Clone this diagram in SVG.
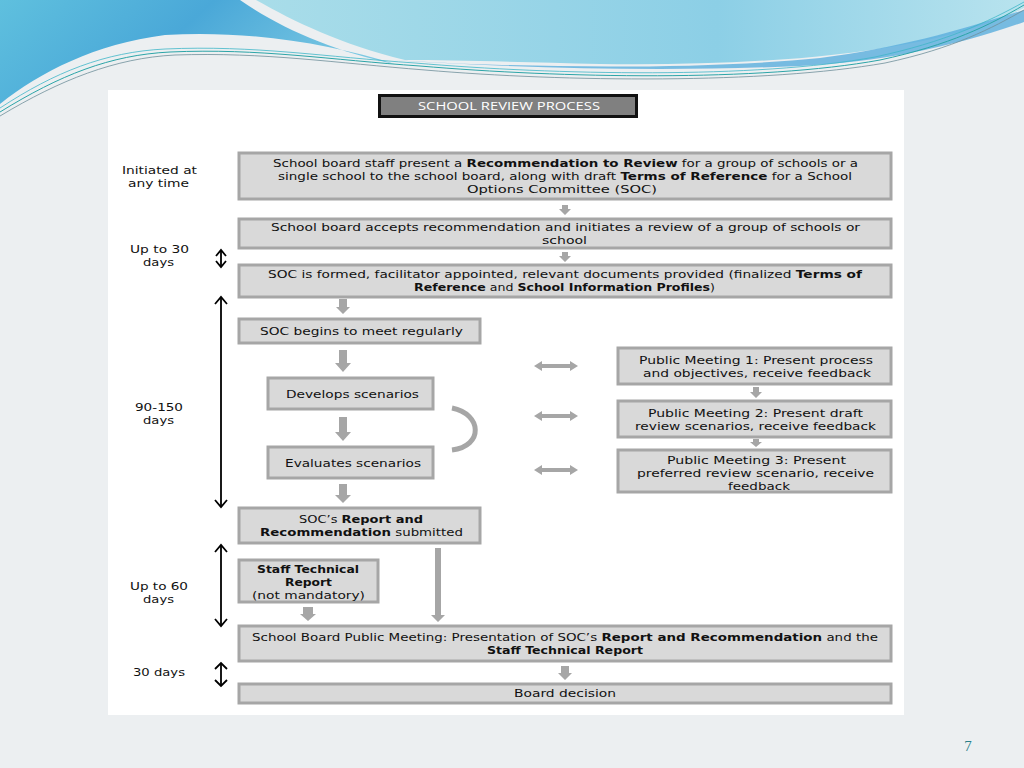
<svg xmlns="http://www.w3.org/2000/svg" width="1024" height="768" viewBox="0 0 1024 768">
<defs>
<linearGradient id="gBlue" x1="0" y1="0" x2="1" y2="0.3">
<stop offset="0" stop-color="#5fc0de"/><stop offset="0.5" stop-color="#4aa8d8"/><stop offset="1" stop-color="#7cc9e3"/>
</linearGradient>
<linearGradient id="gCyan" x1="0" y1="0" x2="1" y2="0">
<stop offset="0" stop-color="#a9dde9"/><stop offset="0.6" stop-color="#8ccfe6"/><stop offset="1" stop-color="#b8e3ee"/>
</linearGradient>
<style>
.box{fill:#d9d9d9;stroke:#a6a6a6;stroke-width:3}
.t{font-family:"DejaVu Sans","Open Sans",sans-serif;font-size:11px;fill:#111;text-anchor:middle}
.b{font-weight:bold}
.lab{font-family:"DejaVu Sans","Open Sans",sans-serif;font-size:11px;fill:#111;text-anchor:middle}
.ga{fill:#a6a6a6}
.bl{stroke:#000;stroke-width:1.8;fill:none}
</style>
</defs>
<rect width="1024" height="768" fill="#eceff1"/>
<g id="waves">
<path d="M0,0 L240,0 C280,28 335,52 395,64 C330,44 250,30 165,35 C95,44 40,72 0,104 Z" fill="url(#gBlue)"/>
<path d="M256,0 L1024,0 L1024,8 C930,55 760,66 600,64 C520,62 450,60 405,60 C340,44 295,22 256,0 Z" fill="url(#gCyan)"/>
<path d="M390,60 C520,68 700,70 820,58 C900,48 960,30 1024,10 L1024,22 C950,48 880,62 800,66 C660,72 520,68 390,60 Z" fill="#5aaedd" opacity="0.8"/>
<path d="M0,112 C60,75 110,55 170,52 C260,48 330,60 420,66 C560,78 760,82 880,60 C950,45 990,25 1024,5" stroke="#2ca5a8" stroke-width="1" fill="none"/>
<path d="M0,116 C60,80 115,58 175,55 C265,52 335,63 425,70 C565,82 765,84 885,63 C955,48 992,28 1024,10" stroke="#6f8f9a" stroke-width="0.8" fill="none"/>
<path d="M0,108 C55,72 105,52 165,49 C255,45 325,57 415,63 C555,75 755,79 875,57 C945,42 988,22 1024,2" stroke="#3fb6c8" stroke-width="0.8" fill="none"/>
</g>
<rect x="108" y="90" width="796" height="625" fill="#ffffff"/>
<g id="title">
<rect x="379.5" y="95.5" width="257" height="21" fill="#808080" stroke="#111" stroke-width="3"/>
<text x="509" y="110" font-family="'Open Sans','DejaVu Sans',sans-serif" font-size="11.5" fill="#fff" text-anchor="middle" textLength="182" lengthAdjust="spacingAndGlyphs">SCHOOL REVIEW PROCESS</text>
</g>
<g id="labels">
<text class="lab" x="159.5" y="174" textLength="75" lengthAdjust="spacingAndGlyphs">Initiated at</text>
<text class="lab" x="158.5" y="187" textLength="61" lengthAdjust="spacingAndGlyphs">any time</text>
<text class="lab" x="159.5" y="253" textLength="59" lengthAdjust="spacingAndGlyphs">Up to 30</text>
<text class="lab" x="158.5" y="266" textLength="31" lengthAdjust="spacingAndGlyphs">days</text>
<text class="lab" x="159" y="411" textLength="48" lengthAdjust="spacingAndGlyphs">90-150</text>
<text class="lab" x="158.5" y="424" textLength="31" lengthAdjust="spacingAndGlyphs">days</text>
<text class="lab" x="159" y="590" textLength="58" lengthAdjust="spacingAndGlyphs">Up to 60</text>
<text class="lab" x="158.5" y="603" textLength="31" lengthAdjust="spacingAndGlyphs">days</text>
<text class="lab" x="159" y="676" textLength="52" lengthAdjust="spacingAndGlyphs">30 days</text>
</g>
<g id="n1"><rect class="box" x="239" y="153" width="652" height="46"/>
<text class="t" x="565.5" y="167" textLength="585" lengthAdjust="spacingAndGlyphs">School board staff present a <tspan class="b">Recommendation to Review</tspan> for a group of schools or a</text>
<text class="t" x="565" y="180" textLength="574" lengthAdjust="spacingAndGlyphs">single school to the school board, along with draft <tspan class="b">Terms of Reference</tspan> for a School</text>
<text class="t" x="562" y="193" textLength="190" lengthAdjust="spacingAndGlyphs">Options  Committee (SOC)</text></g>
<g id="n2"><rect class="box" x="239" y="219" width="652" height="29"/>
<text class="t" x="565.5" y="231" textLength="589" lengthAdjust="spacingAndGlyphs">School board accepts recommendation and initiates a review of a group of schools or</text>
<text class="t" x="564.5" y="244" textLength="45" lengthAdjust="spacingAndGlyphs">school</text></g>
<g id="n3"><rect class="box" x="239" y="265" width="652" height="32"/>
<text class="t" x="565" y="278" textLength="594" lengthAdjust="spacingAndGlyphs">SOC is formed, facilitator appointed, relevant documents provided (finalized <tspan class="b">Terms of</tspan></text>
<text class="t" x="564.5" y="291" textLength="301" lengthAdjust="spacingAndGlyphs"><tspan class="b">Reference</tspan> and <tspan class="b">School Information Profiles</tspan>)</text></g>
<g id="n4"><rect class="box" x="239" y="319" width="241" height="24"/>
<text class="t" x="361.5" y="335" textLength="203" lengthAdjust="spacingAndGlyphs">SOC begins to meet regularly</text></g>
<g id="n5"><rect class="box" x="268" y="378" width="165" height="31"/>
<text class="t" x="352.5" y="398" textLength="133" lengthAdjust="spacingAndGlyphs">Develops scenarios</text></g>
<g id="n6"><rect class="box" x="268" y="447" width="165" height="31"/>
<text class="t" x="353" y="467" textLength="136" lengthAdjust="spacingAndGlyphs">Evaluates scenarios</text></g>
<g id="n7"><rect class="box" x="239" y="508" width="241" height="35"/>
<text class="t" x="361" y="523" textLength="124" lengthAdjust="spacingAndGlyphs">SOC’s <tspan class="b">Report and</tspan></text>
<text class="t" x="361.5" y="536" textLength="203" lengthAdjust="spacingAndGlyphs"><tspan class="b">Recommendation</tspan> submitted</text></g>
<g id="n8"><rect class="box" x="239" y="560" width="139" height="42"/>
<text class="t b" x="308" y="573" textLength="102" lengthAdjust="spacingAndGlyphs">Staff Technical</text>
<text class="t b" x="308.5" y="586" textLength="47" lengthAdjust="spacingAndGlyphs">Report</text>
<text class="t" x="308.5" y="599" textLength="113" lengthAdjust="spacingAndGlyphs">(not mandatory)</text></g>
<g id="n9"><rect class="box" x="239" y="626" width="652" height="35"/>
<text class="t" x="565" y="641" textLength="626" lengthAdjust="spacingAndGlyphs">School Board Public Meeting: Presentation of SOC’s <tspan class="b">Report and Recommendation</tspan> and the</text>
<text class="t b" x="565" y="654" textLength="156" lengthAdjust="spacingAndGlyphs">Staff Technical Report</text></g>
<g id="n10"><rect class="box" x="239" y="684" width="652" height="19"/>
<text class="t" x="565" y="697" textLength="102" lengthAdjust="spacingAndGlyphs">Board decision</text></g>
<g id="pm1"><rect class="box" x="618" y="348" width="273" height="36"/>
<text class="t" x="756" y="364" textLength="234" lengthAdjust="spacingAndGlyphs">Public Meeting 1: Present process</text>
<text class="t" x="757" y="377" textLength="228" lengthAdjust="spacingAndGlyphs">and objectives, receive feedback</text></g>
<g id="pm2"><rect class="box" x="618" y="401" width="273" height="36"/>
<text class="t" x="755.5" y="417" textLength="215" lengthAdjust="spacingAndGlyphs">Public Meeting 2: Present draft</text>
<text class="t" x="755.5" y="430" textLength="241" lengthAdjust="spacingAndGlyphs">review scenarios, receive feedback</text></g>
<g id="pm3"><rect class="box" x="618" y="450" width="273" height="42"/>
<text class="t" x="756.5" y="464" textLength="179" lengthAdjust="spacingAndGlyphs">Public Meeting 3: Present</text>
<text class="t" x="755.5" y="477" textLength="237" lengthAdjust="spacingAndGlyphs">preferred review scenario, receive</text>
<text class="t" x="759" y="490" textLength="62" lengthAdjust="spacingAndGlyphs">feedback</text></g>
<g id="connectors">
<path class="ga" d="M562,205 L568,205 L568,209 L571,209 L565,215 L559,209 L562,209 Z"/>
<path class="ga" d="M562,252 L568,252 L568,256 L571,256 L565,262 L559,256 L562,256 Z"/>
<path class="ga" d="M339,299 L347,299 L347,307 L350,307 L343,314 L336,307 L339,307 Z"/>
<path class="ga" d="M339,350 L347,350 L347,363 L351,363 L343,372 L335,363 L339,363 Z"/>
<path class="ga" d="M339,417 L347,417 L347,432 L351,432 L343,441 L335,432 L339,432 Z"/>
<path class="ga" d="M339,484 L347,484 L347,495 L351,495 L343,503 L335,495 L339,495 Z"/>
<path class="ga" d="M303,607 L313,607 L313,614 L316,614 L308,621 L300,614 L303,614 Z"/>
<path class="ga" d="M435,548 L441,548 L441,615 L445,615 L438,622 L431,615 L435,615 Z"/>
<path class="ga" d="M561,666 L569,666 L569,673 L572,673 L565,680 L558,673 L561,673 Z"/>
<path class="ga" d="M753,387 L759,387 L759,392 L762,392 L756,398 L750,392 L753,392 Z"/>
<path class="ga" d="M753,439 L759,439 L759,442 L762,442 L756,447 L750,442 L753,442 Z"/>
<path class="ga" d="M534,366 L542,361 L542,364 L570,364 L570,361 L578,366 L570,371 L570,368 L542,368 L542,371 Z"/>
<path class="ga" d="M534,416 L542,411 L542,414 L570,414 L570,411 L578,416 L570,421 L570,418 L542,418 L542,421 Z"/>
<path class="ga" d="M534,470 L542,465 L542,468 L570,468 L570,465 L578,470 L570,475 L570,472 L542,472 L542,475 Z"/>
<path d="M452,408 C482,414 484,446 452,450" fill="none" stroke="#a6a6a6" stroke-width="5"/>
<path class="bl" d="M221,251 L221,266"/>
<path class="bl" d="M216,256 L221,250 L226,256 M216,261 L221,267 L226,261"/>
<path class="bl" d="M221,297 L221,507"/>
<path class="bl" d="M215,304 L221,297 L227,304 M215,500 L221,507 L227,500"/>
<path class="bl" d="M221,545 L221,626"/>
<path class="bl" d="M215,552 L221,545 L227,552 M215,619 L221,626 L227,619"/>
<path class="bl" d="M221,663 L221,686"/>
<path class="bl" d="M215,669 L221,663 L227,669 M215,680 L221,686 L227,680"/>
</g>
<text x="968" y="751" font-family="'Liberation Serif',serif" font-size="15" fill="#2a7f8a" text-anchor="middle">7</text>
</svg>
